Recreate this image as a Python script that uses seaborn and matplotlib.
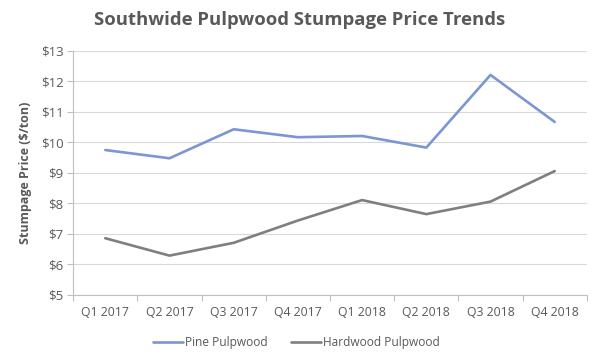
import numpy as np
import pandas as pd
import seaborn as sns
import matplotlib.pyplot as plt
from matplotlib.ticker import FixedLocator, FuncFormatter

# Data
quarters = ["Q1 2017", "Q2 2017", "Q3 2017", "Q4 2017",
            "Q1 2018", "Q2 2018", "Q3 2018", "Q4 2018"]
pine = [9.75, 9.48, 10.43, 10.17, 10.21, 9.83, 12.21, 10.67]
hardwood = [6.86, 6.29, 6.71, 7.44, 8.11, 7.65, 8.06, 9.06]
series_names = ["Pine Pulpwood", "Hardwood Pulpwood"]

df = pd.DataFrame({
    "Quarter": quarters * 2,
    "Price": pine + hardwood,
    "Series": [series_names[0]] * len(quarters) + [series_names[1]] * len(quarters),
})

sns.set_style("white")
plt.rcParams["font.family"] = ["Open Sans", "DejaVu Sans"]

text_color = "#595959"
colors = {"Pine Pulpwood": "#7B96D2", "Hardwood Pulpwood": "#7F7F7F"}

fig = plt.figure(figsize=(6, 3.58), dpi=100)
ax = fig.add_axes([0.122, 0.176, 0.856, 0.682])

sns.lineplot(data=df, x="Quarter", y="Price", hue="Series", palette=colors,
             linewidth=1.9, sort=False, ax=ax)

ax.set_ylim(5, 13)
ax.set_xlim(-0.5, 7.5)
ax.yaxis.set_major_locator(FixedLocator(np.arange(5, 14, 1)))
ax.yaxis.set_major_formatter(FuncFormatter(lambda v, p: f"${v:.0f}"))
ax.yaxis.grid(True, color="#D9D9D9", linewidth=0.8)
ax.set_axisbelow(True)

# tick marks between categories
ax.xaxis.set_minor_locator(FixedLocator(np.arange(-0.5, 8, 1)))
ax.tick_params(axis="x", which="major", length=0, pad=8, labelsize=8.8, colors=text_color)
ax.tick_params(axis="x", which="minor", length=4, color="#BFBFBF", width=0.8, bottom=True)
ax.tick_params(axis="y", which="major", length=4, color="#BFBFBF", width=0.8,
               labelsize=9.5, colors=text_color, pad=3, left=True)

for side in ["top", "right"]:
    ax.spines[side].set_visible(False)
for side in ["left", "bottom"]:
    ax.spines[side].set_color("#BFBFBF")
    ax.spines[side].set_linewidth(0.8)

ax.set_xlabel("")
ax.set_ylabel("Stumpage Price ($/ton)", fontsize=9, fontweight="bold",
              color=text_color, labelpad=6)

fig.suptitle("Southwide Pulpwood Stumpage Price Trends", x=0.5, y=0.97,
             fontsize=13.3, fontweight="bold", color=text_color)

leg = ax.legend(loc="upper center", bbox_to_anchor=(0.435, -0.125), ncol=2,
                frameon=False, fontsize=8.6, handlelength=2.5, handletextpad=0.15,
                columnspacing=2.0)
for t in leg.get_texts():
    t.set_color(text_color)

fig.savefig("out.png", dpi=100)
